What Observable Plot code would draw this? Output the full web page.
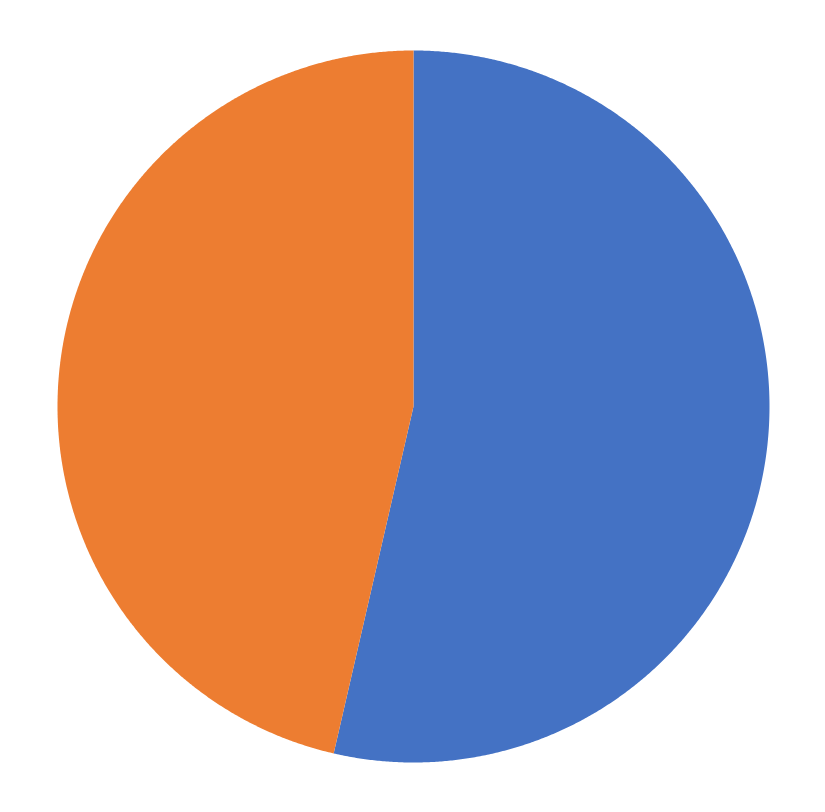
<!DOCTYPE html>
<html>
<head>
<meta charset="utf-8">
<script src="https://cdn.jsdelivr.net/npm/d3@7"></script>
<script src="https://cdn.jsdelivr.net/npm/@observablehq/plot@0.6"></script>
<style>
  html, body { margin: 0; padding: 0; background: #fff; }
</style>
</head>
<body>
<div id="chart"></div>
<script>
// Data
const categories = ["A", "B"];
const values = [53.6, 46.4];
const colors = ["#4472C4", "#ED7D31"];

// Build slice polygons (unit circle, angle clockwise from top, screen y down)
const pie = d3.pie().sort(null).value(d => d.value);
const arcs = pie(categories.map((c, i) => ({category: c, value: values[i]})));
const pt = a => [Math.sin(a), -Math.cos(a)];
const features = arcs.map(a => {
  const n = Math.max(8, Math.ceil((a.endAngle - a.startAngle) / 0.005));
  const ring = [[0, 0]];
  for (let k = 0; k <= n; k++) ring.push(pt(a.startAngle + (a.endAngle - a.startAngle) * k / n));
  ring.push([0, 0]);
  return {type: "Feature", properties: {category: a.data.category}, geometry: {type: "Polygon", coordinates: [ring]}};
});
const domainBox = {type: "Polygon", coordinates: [[[-1, -1], [1, -1], [1, 1], [-1, 1], [-1, -1]]]};

const chart = Plot.plot({
  width: 825,
  height: 812,
  marginLeft: 57,
  marginRight: 56,
  marginTop: 50,
  marginBottom: 50,
  projection: {type: "identity", domain: domainBox},
  color: {domain: categories, range: colors},
  marks: [
    Plot.geo(features, {fill: d => d.properties.category, stroke: "none"})
  ]
});
document.getElementById("chart").appendChild(chart);
</script>
</body>
</html>
